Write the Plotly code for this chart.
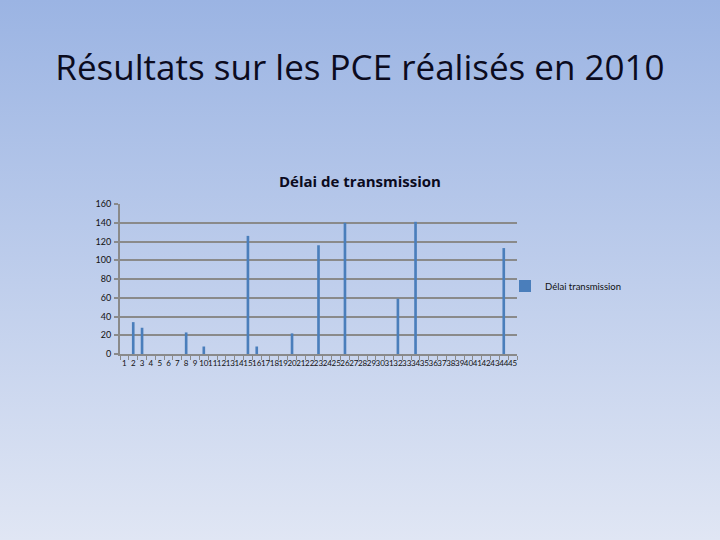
import base64
import plotly.graph_objects as go

categories = [str(i) for i in range(1, 46)]
delai_values = [0, 34, 28, 0, 0, 0, 0, 23, 0, 8,
                0, 0, 0, 0, 126, 8, 0, 0, 0, 22,
                0, 0, 116, 0, 0, 140, 0, 0, 0, 0,
                0, 59, 0, 141, 0, 0, 0, 0, 0, 0,
                0, 0, 0, 113, 0]
y_ticks = [0, 20, 40, 60, 80, 100, 120, 140, 160]

W, H = 720, 540
L, R, T, B = 120, 203, 204, 186
pw, ph = W - L - R, H - T - B

svg = ('<svg xmlns="http://www.w3.org/2000/svg" width="720" height="540" preserveAspectRatio="none">'
       '<defs><linearGradient id="g" x1="0" y1="0" x2="0" y2="1">'
       '<stop offset="0" stop-color="#9bb4e3"/><stop offset="1" stop-color="#e0e6f4"/>'
       '</linearGradient></defs><rect width="720" height="540" fill="url(#g)"/></svg>')
src = "data:image/svg+xml;base64," + base64.b64encode(svg.encode()).decode()

fig = go.Figure()
fig.add_trace(go.Bar(
    x=categories, y=delai_values, name="Délai transmission",
    marker=dict(color="#4a7ebb", line=dict(width=0)),
))

fig.update_layout(
    width=W, height=H,
    margin=dict(l=L, r=R, t=T, b=B, pad=0),
    paper_bgcolor="#bccbea",
    plot_bgcolor="rgba(0,0,0,0)",
    bargap=0.7,
    showlegend=True,
    legend=dict(x=(505 - L) / pw, y=(354 - 286) / ph, xanchor="left", yanchor="middle",
                font=dict(family="Lato", size=9.5, color="#111"),
                bgcolor="rgba(0,0,0,0)", itemwidth=30),
    title=dict(text="Résultats sur les PCE réalisés en 2010",
               x=0.5, xanchor="center", y=1 - 68 / H, yanchor="middle",
               font=dict(family="Open Sans", size=35, color="#0b0b1e")),
    images=[dict(source=src, xref="paper", yref="paper",
                 x=-L / pw, y=1 + T / ph, sizex=W / pw, sizey=H / ph,
                 xanchor="left", yanchor="top", sizing="stretch", layer="below")],
    annotations=[dict(text="<b>Délai de transmission</b>", xref="paper", yref="paper",
                      x=(360 - L) / pw, y=(354 - 181) / ph, xanchor="center", yanchor="middle",
                      showarrow=False, font=dict(family="Open Sans", size=15, color="#0b0b1e"))],
)

fig.update_xaxes(
    type="category", showgrid=False, showline=True, linecolor="#8a8a8a", linewidth=2,
    tickmode="array", tickvals=categories, ticktext=categories,
    ticks="outside", tickson="boundaries", ticklen=4, tickcolor="#8a8a8a", tickwidth=1,
    tickfont=dict(family="Lato", size=8, color="#111"), tickangle=0,
)
fig.update_yaxes(
    range=[0, 160], tickvals=y_ticks, showgrid=True, gridcolor="#8a8a8a", gridwidth=2,
    showline=True, linecolor="#8a8a8a", linewidth=2, zeroline=False,
    ticks="outside", ticklen=4, tickcolor="#8a8a8a", tickwidth=2,
    ticklabelstandoff=1,
    tickfont=dict(family="Lato", size=9, color="#111"),
)

fig.write_html("out.html", config={"displayModeBar": False},
               post_script="document.body.style.margin='0';document.body.style.padding='0';")
